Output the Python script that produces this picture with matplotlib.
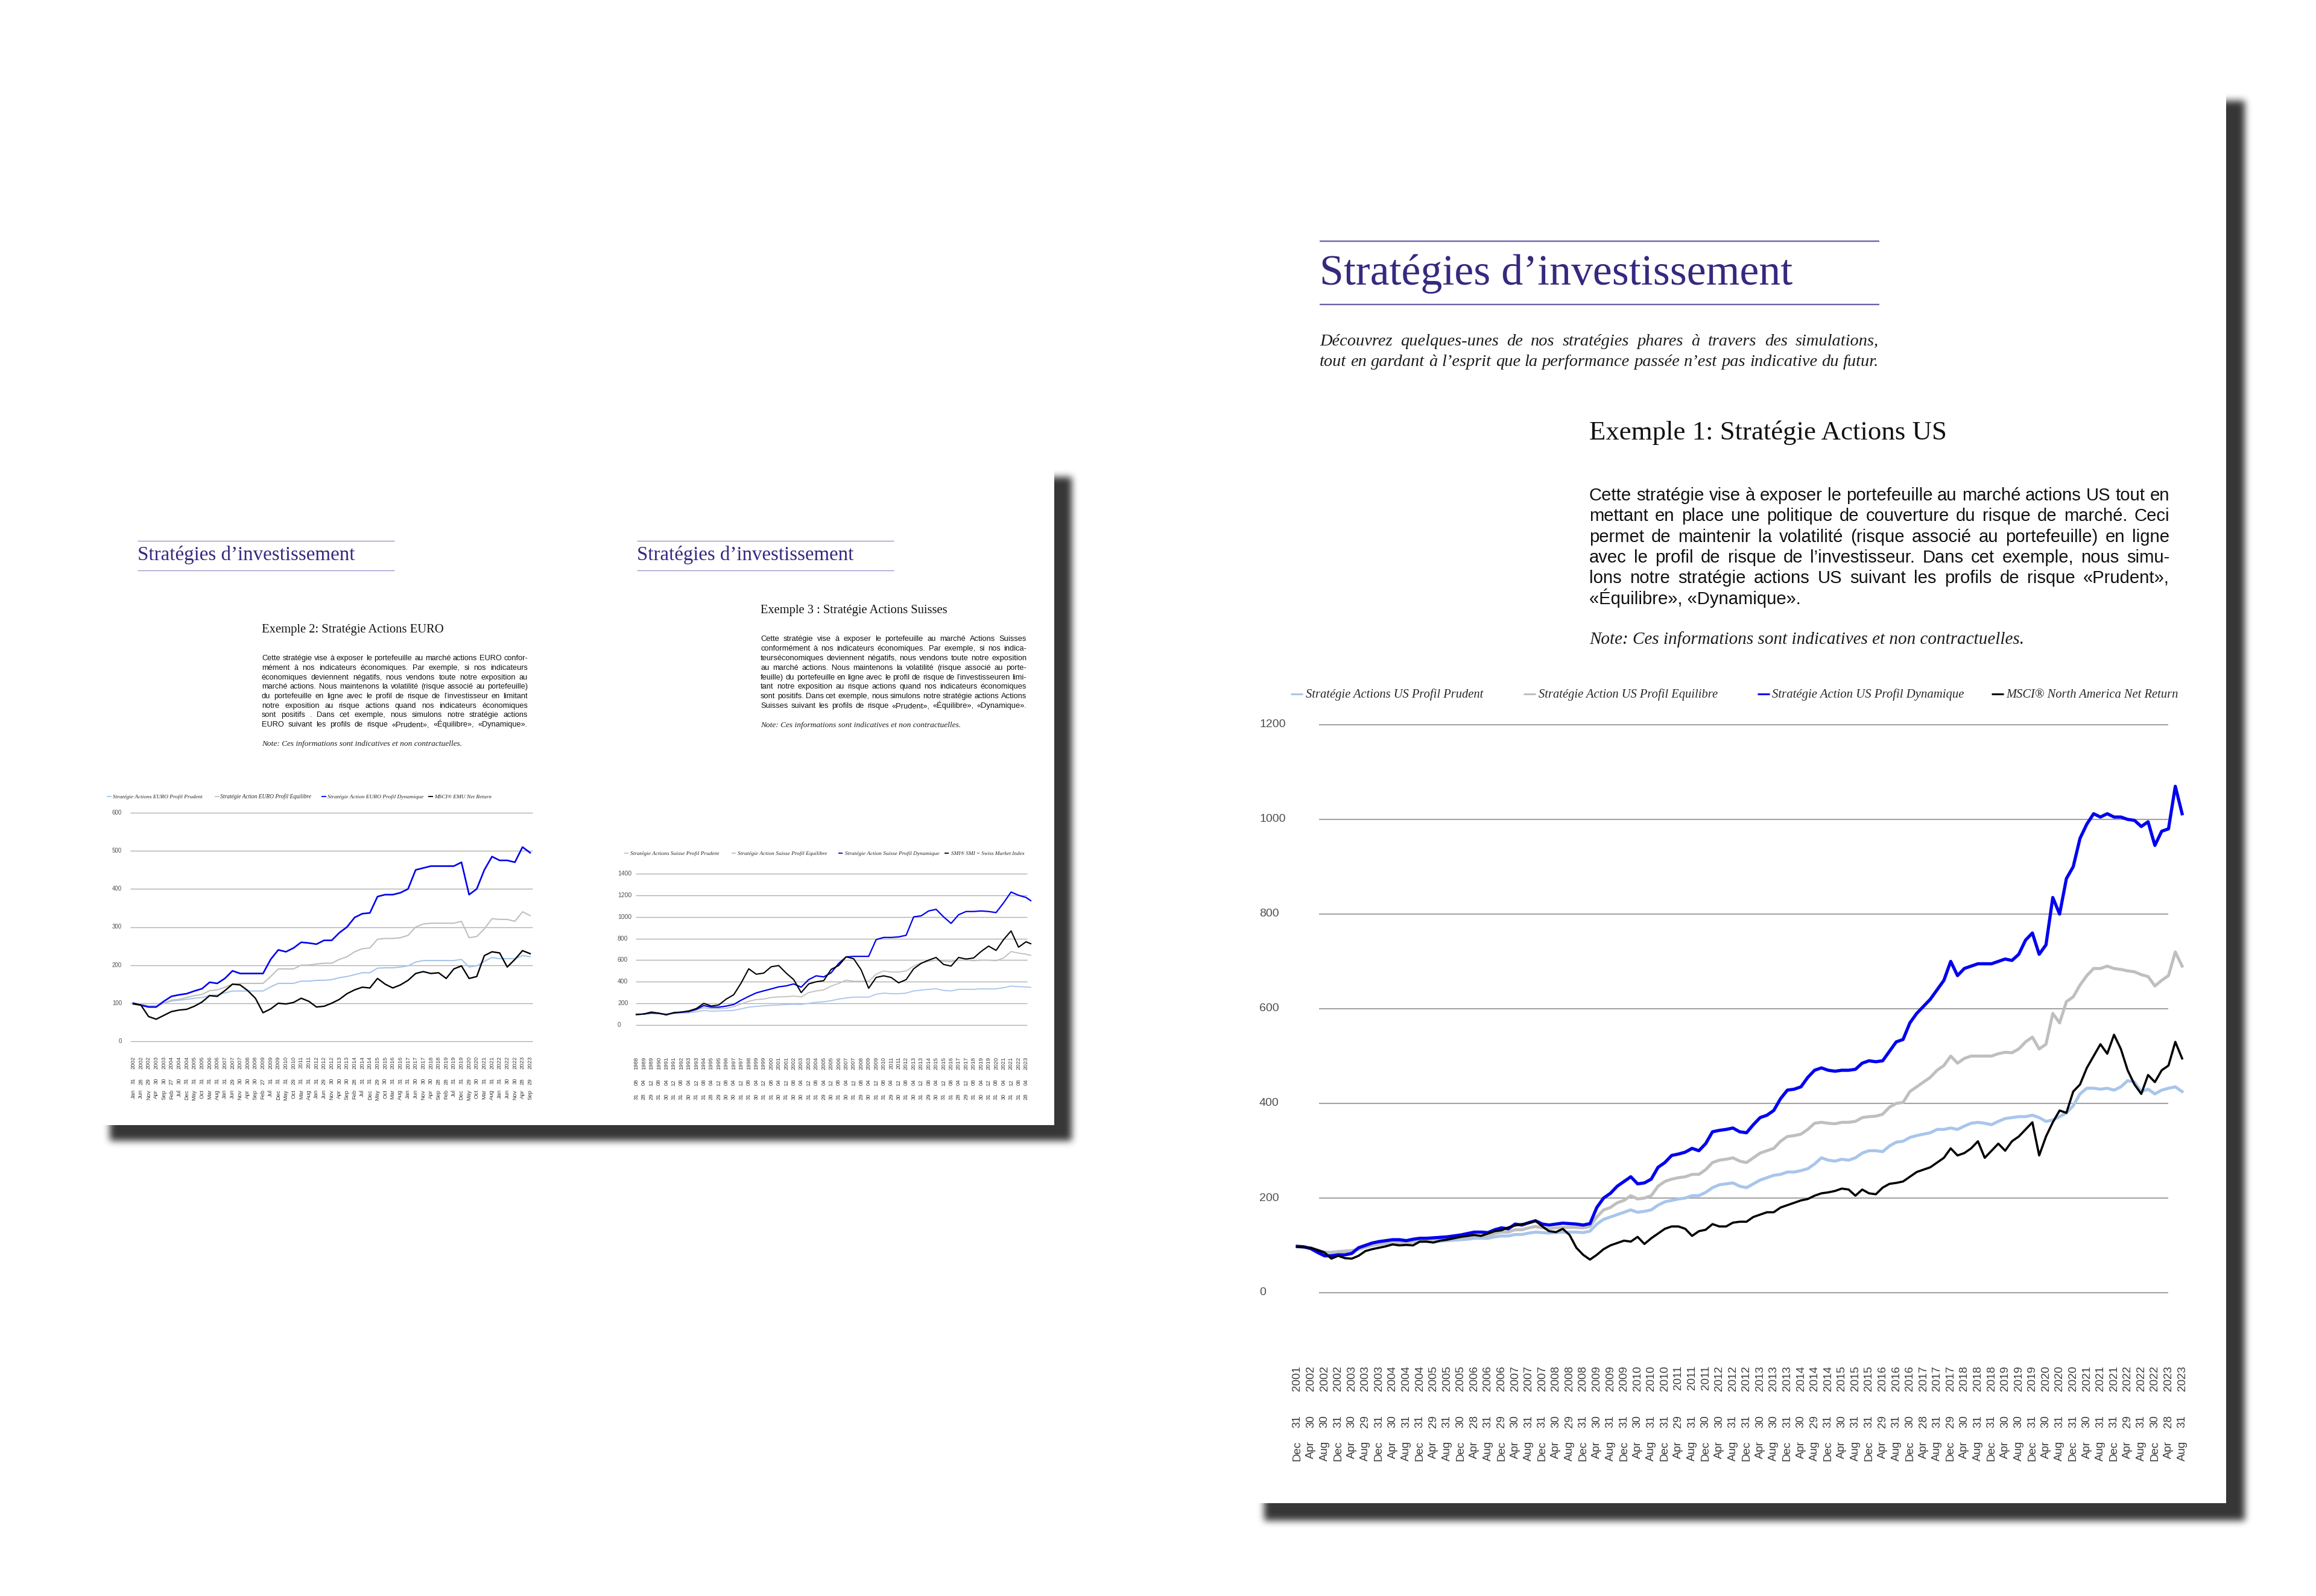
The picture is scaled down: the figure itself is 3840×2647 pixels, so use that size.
import numpy as np
import pandas as pd
import matplotlib
matplotlib.use('Agg')
import matplotlib.pyplot as plt
from matplotlib import transforms
from matplotlib.patches import Rectangle

W, H = 3840, 2647
SANS = 'Liberation Sans'
SERIF = 'Liberation Serif'
PURPLE = '#35297f'
COLORS = ['#a8c5ec', '#bfbfbf', '#0000f0', '#000000']

# ---- Exemple 1 : US, one value every 2 months, Dec 2001 -> Aug 2023
us_months = list(range(0, 261, 2))
us_prudent = [97, 96, 94, 90, 86, 85, 87, 88, 89, 92,
              96, 100, 102, 104, 105, 105, 106, 107, 108, 108,
              108, 109, 110, 111, 112, 113, 115, 115, 115, 118,
              120, 120, 123, 123, 126, 128, 127, 126, 127, 128,
              128, 128, 127, 130, 145, 155, 160, 165, 170, 175,
              170, 172, 175, 185, 192, 195, 198, 200, 205, 205,
              212, 222, 228, 230, 232, 225, 222, 230, 238, 243,
              248, 250, 255, 255, 258, 262, 272, 285, 280, 278,
              282, 280, 285, 295, 300, 300, 298, 310, 318, 320,
              328, 332, 335, 338, 345, 345, 348, 345, 352, 358,
              360, 358, 355, 362, 368, 370, 372, 372, 375, 370,
              362, 365, 372, 380, 395, 420, 432, 432, 430, 432,
              428, 435, 448, 445, 425, 430, 420, 428, 432, 435,
              425]
us_equilibre = [97, 96, 94, 90, 85, 85, 86, 87, 88, 92,
                97, 100, 103, 105, 106, 107, 107, 108, 110, 110,
                111, 112, 113, 115, 117, 118, 120, 120, 120, 125,
                128, 128, 133, 133, 137, 140, 137, 135, 137, 138,
                138, 138, 137, 140, 160, 175, 180, 190, 195, 205,
                198, 200, 205, 225, 235, 240, 243, 245, 250, 250,
                260, 275, 280, 282, 285, 278, 275, 285, 295, 300,
                305, 320, 330, 332, 335, 345, 358, 360, 358, 357,
                360, 360, 362, 370, 372, 373, 377, 392, 400, 402,
                425, 435, 445, 455, 470, 480, 500, 485, 495, 500,
                500, 500, 500, 505, 508, 507, 515, 530, 540, 515,
                525, 590, 570, 615, 625, 650, 670, 685, 685, 690,
                685, 683, 680, 678, 672, 668, 648, 660, 670, 720,
                690]
us_dynamique = [98, 97, 93, 85, 78, 78, 80, 80, 83, 95,
                100, 105, 108, 110, 112, 112, 110, 113, 115, 115,
                116, 117, 118, 120, 122, 125, 128, 128, 127, 133,
                137, 135, 145, 143, 148, 152, 145, 143, 145, 147,
                146, 145, 143, 146, 180, 200, 210, 225, 235, 245,
                230, 232, 240, 265, 275, 290, 293, 297, 305, 300,
                315, 340, 343, 345, 348, 340, 338, 355, 370, 375,
                385, 410, 428, 430, 435, 455, 470, 475, 470, 468,
                470, 470, 472, 485, 490, 488, 490, 510, 530, 535,
                570, 590, 605, 620, 640, 660, 700, 670, 685, 690,
                695, 695, 695, 700, 705, 702, 715, 745, 760, 715,
                735, 835, 800, 875, 900, 960, 990, 1012, 1005, 1012,
                1005, 1005, 1000, 998, 985, 995, 945, 975, 980, 1070,
                1012]
us_msci = [97, 96, 95, 90, 85, 72, 78, 73, 72, 78,
           88, 92, 95, 98, 102, 100, 101, 100, 108, 108,
           106, 110, 112, 115, 118, 120, 122, 120, 125, 130,
           132, 138, 142, 145, 147, 152, 140, 130, 128, 135,
           122, 95, 80, 70, 80, 92, 100, 105, 110, 108,
           118, 103, 115, 125, 135, 140, 140, 135, 120, 130,
           133, 145, 140, 140, 148, 150, 150, 160, 165, 170,
           170, 180, 185, 190, 195, 198, 205, 210, 212, 215,
           220, 218, 205, 218, 210, 208, 222, 230, 232, 235,
           245, 255, 260, 265, 275, 285, 305, 290, 295, 305,
           320, 285, 300, 315, 300, 320, 330, 345, 360, 290,
           330, 360, 385, 380, 425, 440, 475, 500, 525, 505,
           545, 515, 470, 440, 420, 460, 445, 470, 480, 530,
           495]
us_labels = ['Stratégie Actions US Profil Prudent', 'Stratégie Action US Profil Equilibre',
             'Stratégie Action US Profil Dynamique', 'MSCI® North America Net Return']
us_ticks = pd.date_range('2001-12-31', '2023-08-31', freq=pd.offsets.BusinessMonthEnd(4))
us_yticks = [0, 200, 400, 600, 800, 1000, 1200]

# ---- Exemple 2 : EURO, one value every 5 months, Jan 2002 -> Sep 2023
eu_months = list(range(0, 261, 5))
eu_prudent = [100, 97, 93, 93, 100, 106, 108, 110, 113, 115,
              120, 122, 127, 132, 132, 132, 132, 132, 143, 152,
              152, 152, 158, 158, 160, 160, 162, 167, 170, 175,
              180, 180, 192, 193, 193, 195, 198, 208, 212, 212,
              212, 212, 212, 215, 195, 198, 210, 220, 217, 217,
              217, 225, 222]
eu_equilibre = [100, 97, 92, 92, 100, 108, 110, 115, 120, 123,
                133, 135, 142, 150, 152, 152, 152, 152, 170, 190,
                190, 190, 200, 200, 203, 205, 205, 215, 222, 235,
                243, 245, 268, 270, 270, 272, 278, 300, 308, 310,
                310, 310, 310, 315, 272, 275, 295, 322, 320, 320,
                315, 340, 330]
eu_dynamique = [100, 95, 90, 90, 105, 118, 122, 125, 132, 138,
                155, 152, 165, 185, 178, 178, 178, 178, 215, 240,
                235, 245, 260, 258, 255, 265, 265, 285, 300, 325,
                335, 337, 380, 385, 385, 390, 400, 450, 455, 460,
                460, 460, 460, 470, 385, 400, 450, 485, 475, 475,
                470, 510, 495]
eu_msci = [98, 95, 65, 58, 68, 78, 82, 84, 92, 103,
           120, 118, 133, 150, 148, 133, 113, 75, 85, 100,
           98, 102, 113, 105, 90, 92, 100, 110, 125, 135,
           142, 140, 165, 150, 140, 148, 160, 178, 183, 178,
           180, 165, 190, 198, 165, 170, 225, 235, 232, 195,
           215, 238, 230]
eu_labels = ['Stratégie Actions EURO Profil Prudent', 'Stratégie Action EURO Profil Equilibre',
             'Stratégie Action EURO Profil Dynamique', 'MSCI® EMU Net Return']
eu_ticks = pd.date_range('2002-01-31', '2023-09-30', freq=pd.offsets.BusinessMonthEnd(5))
eu_yticks = [0, 100, 200, 300, 400, 500, 600]

# ---- Exemple 3 : Suisse, one value every 8 months from Aug 1988, last Sep 2023
ch_months = list(range(0, 417, 8)) + [421]
ch_prudent = [97, 100, 105, 103, 98, 105, 110, 112, 122, 135,
              128, 130, 132, 135, 150, 165, 172, 178, 182, 185,
              190, 192, 190, 200, 210, 215, 225, 240, 250, 258,
              258, 258, 285, 295, 290, 290, 295, 315, 322, 330,
              335, 320, 315, 330, 330, 330, 335, 333, 335, 345,
              360, 355, 352, 348]
ch_equilibre = [97, 100, 108, 105, 98, 110, 115, 120, 138, 160,
                150, 150, 155, 170, 195, 220, 235, 240, 255, 260,
                262, 268, 260, 300, 315, 325, 360, 385, 415, 405,
                405, 405, 470, 500, 490, 490, 500, 545, 575, 590,
                600, 590, 585, 600, 600, 595, 600, 600, 595, 620,
                680, 665, 655, 645]
ch_dynamique = [97, 102, 112, 108, 98, 112, 118, 125, 145, 180,
                165, 165, 175, 190, 230, 265, 297, 316, 334, 353,
                362, 380, 350, 420, 455, 445, 483, 570, 630, 635,
                635, 635, 790, 810, 810, 815, 830, 1000, 1010, 1055,
                1070, 1000, 940, 1020, 1050, 1050, 1055, 1050, 1040, 1130,
                1230, 1200, 1180, 1150]
ch_smi = [97, 102, 120, 110, 93, 115, 120, 130, 152, 200,
          176, 185, 240, 280, 390, 520, 470, 480, 539, 550,
          480, 420, 300, 380, 400, 410, 515, 550, 631, 613,
          510, 340, 440, 455, 440, 390, 420, 520, 570, 600,
          625, 560, 545, 625, 610, 620, 680, 730, 690, 790,
          870, 720, 770, 752]
ch_labels = ['Stratégie Actions Suisse Profil Prudent', 'Stratégie Action Suisse Profil Equilibre',
             'Stratégie Action Suisse Profil Dynamique', 'SMI® SMI = Swiss Market Index']
ch_ticks = pd.date_range('1988-08-31', '2023-04-30', freq=pd.offsets.BusinessMonthEnd(8))
ch_yticks = [0, 200, 400, 600, 800, 1000, 1200, 1400]

# ---- texts
title = 'Stratégies d’investissement'
note = 'Note: Ces informations sont indicatives et non contractuelles.'
intro = ['Découvrez quelques-unes de nos stratégies phares à travers des simulations,',
         'tout en gardant à l’esprit que la performance passée n’est pas indicative du futur.']
us_para = ['Cette stratégie vise à exposer le portefeuille au marché actions US tout en',
           'mettant en place une politique de couverture du risque de marché. Ceci',
           'permet de maintenir la volatilité (risque associé au portefeuille) en ligne',
           'avec le profil de risque de l’investisseur. Dans cet exemple, nous simu-',
           'lons notre stratégie actions US suivant les profils de risque «Prudent»,',
           '«Équilibre», «Dynamique».']
eu_para = ['Cette stratégie vise à exposer le portefeuille au marché actions EURO confor-',
           'mément à nos indicateurs économiques. Par exemple, si nos indicateurs',
           'économiques deviennent négatifs, nous vendons toute notre exposition au',
           'marché actions. Nous maintenons la volatilité (risque associé au portefeuille)',
           'du portefeuille en ligne avec le profil de risque de l’investisseur en limitant',
           'notre exposition au risque actions quand nos indicateurs économiques',
           'sont positifs . Dans cet exemple, nous simulons notre stratégie actions',
           'EURO suivant les profils de risque «Prudent», «Équilibre», «Dynamique».']
ch_para = ['Cette stratégie vise à exposer le portefeuille au marché Actions Suisses',
           'conformément à nos indicateurs économiques. Par exemple, si nos indica-',
           'teurséconomiques deviennent négatifs, nous vendons toute notre exposition',
           'au marché actions. Nous maintenons la volatilité (risque associé au porte-',
           'feuille) du portefeuille en ligne avec le profil de risque de l’investisseuren limi-',
           'tant notre exposition au risque actions quand nos indicateurs économiques',
           'sont positifs. Dans cet exemple, nous simulons notre stratégie actions Actions',
           'Suisses suivant les profils de risque «Prudent», «Équilibre», «Dynamique».']

fig = plt.figure(figsize=(W / 100, H / 100), dpi=100)
bg = fig.add_axes([0, 0, 1, 1])
bg.axis('off')
R = fig.canvas.get_renderer()


def blur(a, r):
    for axis in (0, 1):
        pad = [(0, 0), (0, 0)]
        pad[axis] = (r + 1, r)
        c = np.cumsum(np.pad(a, pad, mode='edge'), axis=axis)
        n = a.shape[axis]
        if axis == 0:
            a = (c[2 * r + 1:2 * r + 1 + n] - c[:n]) / (2 * r + 1)
        else:
            a = (c[:, 2 * r + 1:2 * r + 1 + n] - c[:, :n]) / (2 * r + 1)
    return a


def page(x0, y0, x1, y1, sx1, sy1, r=5, m=24):
    sx0, sy0 = x0 + 2, y0 - 4
    a = np.zeros((sy1 - sy0 + 2 * m, sx1 - sx0 + 2 * m), np.float32)
    a[m:m + sy1 - sy0, m:m + sx1 - sx0] = 1
    for _ in range(3):
        a = blur(a, r)
    img = np.zeros(a.shape + (4,), np.float32)
    img[..., :3] = 0.17
    img[..., 3] = np.clip(a, 0, 1) * 0.95
    ox, oy = sx0 - m, sy0 - m
    bg.imshow(img, extent=(ox, ox + a.shape[1], oy + a.shape[0], oy),
              interpolation='bilinear', aspect='auto', zorder=0)
    # white sheet, padded up/left so the blur never shows past those edges
    bg.add_patch(Rectangle((x0 - 40, y0 - 40), x1 - x0 + 40, y1 - y0 + 40,
                           fc='white', ec='none', zorder=1))


def width_of(t):
    return t.get_window_extent(renderer=R).width


def fit_text(x, yc, s, w, family, color, style='normal', k=0.33):
    t = bg.text(x, yc, s, fontsize=30, family=family, style=style, color=color,
                ha='left', va='baseline', zorder=3)
    size = 30 * w / width_of(t)
    t.set_fontsize(size)
    t.set_y(yc + k * size * 100 / 72)
    return size


def justify(x0, x1, ys, lines, family, color, style='normal', last_full=True):
    w = x1 - x0
    nat = []
    for ln in lines:
        p = bg.text(0, 0, ln, fontsize=30, family=family, style=style)
        nat.append(width_of(p))
        p.remove()
    nfull = len(lines) if last_full else len(lines) - 1
    size = 30 * min(w / n for n in nat[:nfull])
    for i, (ln, y) in enumerate(zip(lines, ys)):
        yb = y + 0.32 * size * 100 / 72
        if i < nfull:
            ts = [bg.text(0, yb, wd, fontsize=size, family=family, style=style, color=color,
                          va='baseline', zorder=3) for wd in ln.split(' ')]
            ws = [width_of(t) for t in ts]
            gap = (w - sum(ws)) / max(len(ts) - 1, 1)
            xx = x0
            for t, ww in zip(ts, ws):
                t.set_x(xx)
                xx += ww + gap
        else:
            bg.text(x0, yb, ln, fontsize=size, family=family, style=style, color=color,
                    va='baseline', zorder=3)


def legend(y, starts, spans, labels, mlen, mlw):
    for x, (t0, t1), lab, c in zip(starts, spans, labels, COLORS):
        bg.plot([x, x + mlen], [y, y], color=c, lw=mlw, solid_capstyle='butt', zorder=3)
        fit_text(t0, y, lab, t1 - t0, SERIF, '#262626', style='italic', k=0.28)


def header(x0, x1, y_top, y_bot, t_end, rule_c, rule_lw):
    bg.plot([x0, x1], [y_top, y_top], color=rule_c, lw=rule_lw, zorder=3, solid_capstyle='butt')
    bg.plot([x0, x1], [y_bot, y_bot], color=rule_c, lw=rule_lw, zorder=3, solid_capstyle='butt')
    fit_text(x0, (y_top + y_bot) / 2 - 2, title, t_end - x0, SERIF, PURPLE, k=0.30)


def chart(px0, px1, py0, py1, months, series, ymax, yticks, ylx, ylha, ysize,
          grid, lws, ticks, rows, tsize, glw, gc):
    ax = fig.add_axes([px0 / W, 1 - py0 / H, (px1 - px0) / W, (py0 - py1) / H])
    ax.set_xlim(months[0], months[-1])
    ax.set_ylim(0, ymax)
    ax.axis('off')
    span = months[-1] - months[0]
    g0 = months[0] + (grid[0] - px0) / (px1 - px0) * span
    g1 = months[0] + (grid[1] - px0) / (px1 - px0) * span
    ax.hlines(yticks, g0, g1, colors=gc, lw=glw, clip_on=False, zorder=1)
    for vals, c, lw in zip(series, COLORS, lws):
        ax.plot(months, vals, color=c, lw=lw, clip_on=False, zorder=2, solid_joinstyle='round')
    tr = transforms.blended_transform_factory(bg.transData, ax.transData)
    for v in yticks:
        ax.text(ylx, v, str(v), transform=tr, ha=ylha, va='center', fontsize=ysize,
                family=SANS, color='#505050')
    tr2 = transforms.blended_transform_factory(ax.transData, bg.transData)
    first = ticks[0]
    for d in ticks:
        m = (d.year - first.year) * 12 + d.month - first.month
        for fmt, ytop in rows:
            ax.text(m, ytop, d.strftime(fmt), transform=tr2, rotation=90, ha='center',
                    va='top', fontsize=tsize, family=SANS, color='#3a3a3a')
    return ax


# pages with drop shadows
page(180, 795, 1748, 1866, 1777, 1892)
page(2094, 171, 3691, 2493, 3722, 2522)

# ---- right page : Exemple 1
header(2188, 3116, 400, 505, 2971, '#6a61ac', 1.7)
justify(2188, 3115, [564, 598], intro, SERIF, '#1c1c1c', style='italic')
fit_text(2635, 714, 'Exemple 1: Stratégie Actions US', 3227 - 2635, SERIF, '#111111')
justify(2635, 3597, [821, 855, 890, 924, 958, 993], us_para, SANS, '#111111', last_full=False)
fit_text(2635, 1060, note, 3355 - 2635, SERIF, '#1c1c1c', style='italic', k=0.28)
legend(1151, [2140, 2526, 2914, 3302],
       [(2165, 2460), (2551, 2848), (2938, 3256), (3326, 3612)], us_labels, 20, 2.2)
chart(2151, 3618, 2144, 1202, us_months, [us_prudent, us_equilibre, us_dynamique, us_msci],
      1200, us_yticks, 2088, 'left', 14, (2187, 3595), (3.6, 3.6, 3.8, 2.6), us_ticks,
      [('%Y', 2265), ('%d', 2347), ('%b', 2390)], 13.5, 1.5, '#a3a3a3')

# ---- left page : Exemple 2
header(228, 654, 897, 946, 588, '#9d96cd', 1.0)
fit_text(434, 1042, 'Exemple 2: Stratégie Actions EURO', 736 - 434, SERIF, '#111111')
justify(434, 875, [1091 + 15.7 * i for i in range(8)], eu_para, SANS, '#111111')
fit_text(434, 1233, note, 764 - 434, SERIF, '#1c1c1c', style='italic', k=0.28)
legend(1321, [177, 356, 533, 710],
       [(187, 335), (365, 517), (543, 702), (720, 815)], eu_labels, 8, 1.3)
chart(221, 879, 1727, 1348, eu_months, [eu_prudent, eu_equilibre, eu_dynamique, eu_msci],
      600, eu_yticks, 202, 'right', 7, (216, 883), (1.5, 1.5, 1.9, 1.7), eu_ticks,
      [('%Y', 1752), ('%d', 1788), ('%b', 1807)], 6.8, 1.0, '#b0b0b0')

# ---- left page : Exemple 3
header(1056, 1482, 897, 946, 1415, '#9d96cd', 1.0)
fit_text(1261, 1010, 'Exemple 3 : Stratégie Actions Suisses', 1571 - 1261, SERIF, '#111111')
justify(1261, 1702, [1059 + 15.87 * i for i in range(8)], ch_para, SANS, '#111111')
fit_text(1261, 1202, note, 1592 - 1261, SERIF, '#1c1c1c', style='italic', k=0.28)
legend(1415, [1035, 1213, 1390, 1566],
       [(1045, 1192), (1223, 1371), (1401, 1557), (1577, 1699)], ch_labels, 7, 1.3)
chart(1055, 1709, 1700, 1449, ch_months, [ch_prudent, ch_equilibre, ch_dynamique, ch_smi],
      1400, ch_yticks, 1024, 'left', 7.5, (1054, 1703), (1.3, 1.3, 1.6, 1.5), ch_ticks,
      [('%Y', 1753), ('%m', 1790), ('%d', 1813)], 6.8, 1.0, '#b0b0b0')

bg.set_xlim(0, W)
bg.set_ylim(H, 0)
fig.savefig('out.png', dpi=100, facecolor='white')
